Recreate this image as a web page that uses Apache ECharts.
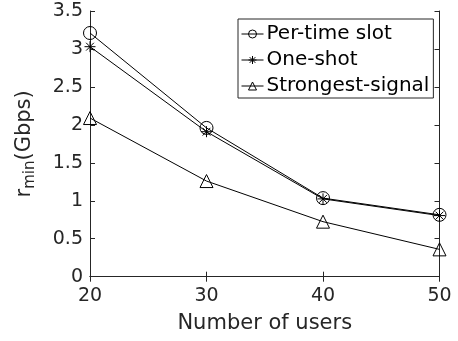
<!DOCTYPE html>
<html><head><meta charset="utf-8">
<script src="https://cdn.jsdelivr.net/npm/echarts@6/dist/echarts.min.js"></script>
<style>html,body{margin:0;padding:0;background:#fff}#c{width:458px;height:341px}</style>
</head><body><div id="c"></div>
<script>
const users = [20, 30, 40, 50];
const perTimeSlot = [3.21, 1.96, 1.035, 0.815];
const oneShot = [3.03, 1.91, 1.025, 0.805];
const strongestSignal = [2.09, 1.26, 0.725, 0.36];
const seriesNames = ['Per-time slot', 'One-shot', 'Strongest-signal'];
const xTicks = [20, 30, 40, 50];
const yTicks = [0, 0.5, 1, 1.5, 2, 2.5, 3, 3.5];

const FONT = 'DejaVu Sans';
const AX = '#262626';
const starPath = 'path://M0,-10L0,10M-10,0L10,0M-7.07,-7.07L7.07,7.07M-7.07,7.07L7.07,-7.07';
const triPath = 'path://M0,-9L9,7L-9,7Z';

function pairs(ys){ return users.map((u,i)=>[u, ys[i]]); }
function mk(name, ys, symbol, size){
  return {
    name, type:'line', data:pairs(ys), symbol, symbolSize:size,
    showSymbol:true, silent:true, animation:false,
    lineStyle:{color:'#000', width:1},
    itemStyle:{color:'rgba(255,255,255,0)', borderColor:'#000', borderWidth:1},
    emphasis:{disabled:true}
  };
}
const chart = echarts.init(document.getElementById('c'), null, {renderer:'canvas'});
const axisCommon = {
  axisLine:{show:true, lineStyle:{color:AX, width:1}},
  axisTick:{show:true, inside:true, length:5, lineStyle:{color:AX}},
  splitLine:{show:false}
};
chart.setOption({
  animation:false,
  textStyle:{fontFamily:FONT},
  grid:{left:90, right:18.5, top:11, bottom:64.3, containLabel:false},
  legend:{
    orient:'vertical', left:238, top:19,
    data:seriesNames,
    itemWidth:22, itemHeight:10, itemGap:6,
    padding:[5,4,2,3],
    borderColor:AX, borderWidth:1, backgroundColor:'#fff',
    lineStyle:{width:1, color:'#000'},
    itemStyle:{borderWidth:1, borderColor:'#000'},
    textStyle:{fontFamily:FONT, fontSize:20, lineHeight:20, color:'#000', padding:[0,0,0,-2]},
    selectedMode:false
  },
  xAxis:[
    Object.assign({type:'value', min:20, max:50, interval:10,
      name:'Number of users', nameLocation:'middle', nameGap:36,
      nameTextStyle:{fontFamily:FONT, fontSize:21, color:AX},
      axisLabel:{fontFamily:FONT, fontSize:19, color:AX, margin:10,
        formatter:v=>xTicks.includes(v)?String(v):''}}, axisCommon),
    Object.assign({type:'value', min:20, max:50, interval:10, position:'top',
      axisLabel:{show:false}}, axisCommon)
  ],
  yAxis:[
    Object.assign({type:'value', min:0, max:3.5, interval:0.5,
      name:'{a|r}{b|min}{a|(Gbps)}', nameLocation:'middle', nameRotate:90, nameGap:52,
      nameTextStyle:{fontFamily:FONT, color:AX,
        rich:{a:{fontFamily:FONT, fontSize:21, color:AX, lineHeight:26, verticalAlign:'middle'},
              b:{fontFamily:FONT, fontSize:15, color:AX, lineHeight:26, verticalAlign:'bottom', padding:[14,0,0,0]}}},
      axisLabel:{fontFamily:FONT, fontSize:19, color:AX, margin:7,
        formatter:v=>{const t=yTicks.find(y=>Math.abs(y-v)<1e-9); return t===undefined?'':String(t);}}}, axisCommon),
    Object.assign({type:'value', min:0, max:3.5, interval:0.5, position:'right',
      axisLabel:{show:false}}, axisCommon)
  ],
  series:[
    mk(seriesNames[0], perTimeSlot, 'circle', 13),
    mk(seriesNames[1], oneShot, starPath, 11),
    mk(seriesNames[2], strongestSignal, triPath, 13)
  ]
});
</script></body></html>
